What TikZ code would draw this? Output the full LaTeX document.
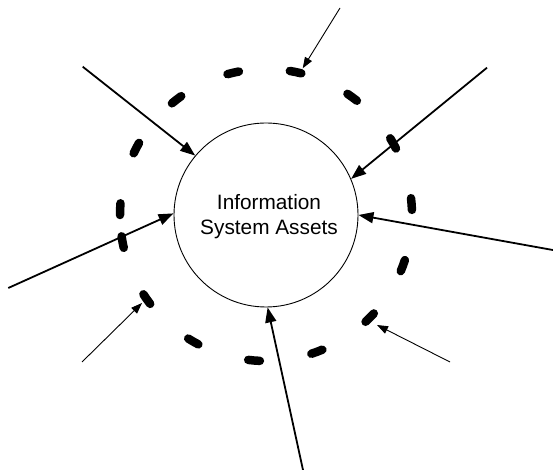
\documentclass[tikz,border=0pt]{standalone}
\usepackage{fontspec}
\setmainfont{Liberation Sans}
\usetikzlibrary{arrows.meta}
\begin{document}
\begin{tikzpicture}[x=1pt,y=1pt,
  asset/.style={circle,draw,line width=0.9pt,minimum size=184pt,inner sep=0pt},
  thickarrow/.style={line width=1.8pt,-{Triangle[length=15pt,width=11pt]}},
  thinarrow/.style={line width=0.9pt,-{Triangle[length=11pt,width=8pt]}},
  ringdash/.style={line width=8.5pt,line cap=round},
  lbl/.style={font=\fontsize{20.8pt}{25pt}\selectfont,align=center,inner sep=0pt}]
\useasboundingbox (0,0) rectangle (553,470);
\node[asset] (c) at (266,255) {};
\node[lbl] (t) at (269,253) {Information\\System Assets};
\coordinate (ctr) at (266,255);
\foreach \a in {78.3,103,127.8,152.7,177.7,190.7,215.2,240.1,265.3,290.4,315.3,339.7,4.3,29.4,53.8}
  \draw[ringdash] ([shift={(\a-2.3:146pt)}]ctr) arc[start angle=\a-2.3,end angle=\a+2.3,radius=146pt];
\coordinate (s1) at (82.7,403.3);
\coordinate (s2) at (340,462);
\coordinate (t2) at (302.7,401.7);
\coordinate (s3) at (487,402.3);
\coordinate (s4) at (8.3,182);
\coordinate (s5) at (555,219.6);
\coordinate (s6) at (82,108);
\coordinate (t6) at (142,167);
\coordinate (s7) at (450,108);
\coordinate (t7) at (377,145);
\coordinate (s8) at (303,0);
\draw[thickarrow] (s1) -- (c.140);
\draw[thinarrow] (s2) -- (t2);
\draw[thickarrow] (s3) -- (c.23);
\draw[thickarrow] (s4) -- (c.179);
\draw[thickarrow] (s5) -- (c.0);
\draw[thinarrow] (s6) -- (t6);
\draw[thinarrow] (s7) -- (t7);
\draw[thickarrow] (s8) -- (c.271);
\end{tikzpicture}
\end{document}
